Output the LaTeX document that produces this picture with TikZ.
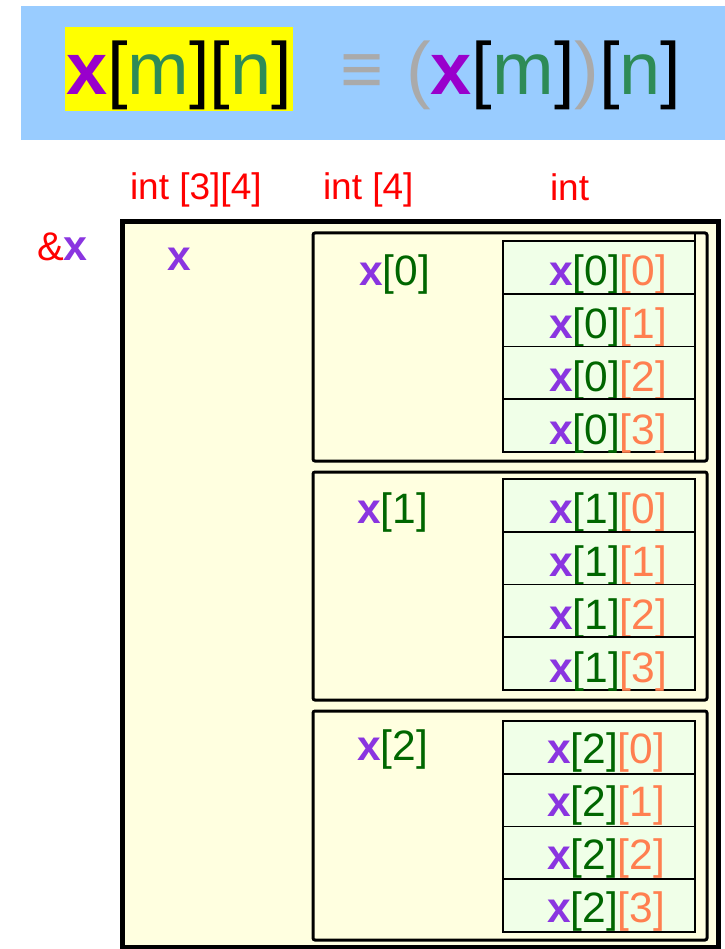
\documentclass[tikz,border=0pt]{standalone}
\usepackage{fontspec}
\setmainfont{Liberation Sans}
\definecolor{hblue}{HTML}{99CCFF}
\definecolor{hyel}{HTML}{FFFF00}
\definecolor{hpur}{HTML}{9900CC}
\definecolor{hgrn}{HTML}{2E8B57}
\definecolor{hgray}{HTML}{AAAAAA}
\definecolor{cx}{HTML}{8A35E0}
\definecolor{cg}{HTML}{006600}
\definecolor{co}{HTML}{FF7F50}
\definecolor{cred}{HTML}{FF0000}
\definecolor{byel}{HTML}{FFFFE0}
\definecolor{cgrn}{HTML}{F0FFE8}
\newcommand{\myX}{\textcolor{cx}{\textbf{x}}}
\newcommand{\myCell}[2]{\myX\textcolor{cg}{[#1]}\textcolor{co}{[#2]}}
\tikzset{
  txt/.style={inner sep=0pt, outer sep=0pt, anchor=base west},
  bigtxt/.style={txt, font=\fontsize{74}{80}\selectfont},
  lbltxt/.style={txt, font=\fontsize{42.5}{46}\selectfont},
  typetxt/.style={txt, font=\fontsize{37}{40}\selectfont, text=cred},
  outerbox/.style={draw=black, line width=5pt, fill=byel},
  rowbox/.style={draw=black, line width=3pt, fill=byel, rounded corners=2pt},
  cellbox/.style={draw=black, line width=1.8pt, fill=cgrn, inner sep=0pt, outer sep=0pt, anchor=north west, minimum width=192pt, minimum height=52.75pt}
}
\begin{document}
\begin{tikzpicture}[x=1pt,y=-1pt]
\useasboundingbox (0,0) rectangle (724,949);
% header
\fill[hblue] (21,6) rectangle (726,140);
\fill[hyel] (65,27) rectangle (293,111);
\node[bigtxt] (lhs) at (66,95) {\textcolor{hpur}{\textbf{x}}[\textcolor{hgrn}{m}][\textcolor{hgrn}{n}]};
\node[bigtxt, text=hgray] (eqv) at (340,95) {≡};
\node[bigtxt] (rhs) at (406,95) {\textcolor{hgray}{(}\textcolor{hpur}{\textbf{x}}[\textcolor{hgrn}{m}]\textcolor{hgray}{)}[\textcolor{hgrn}{n}]};
% type labels
\node[typetxt] (t34) at (130,200) {int [3][4]};
\node[typetxt] (t4) at (323,200) {int [4]};
\node[typetxt] (tint) at (550,201) {int};
\node[txt] (addr) at (37,261) {\fontsize{40}{44}\selectfont\textcolor{cred}{\&}\fontsize{43}{46}\selectfont\myX};
% outer box
\draw[outerbox] (122.5,221.5) rectangle (718.5,947.5);
\node[lbltxt] (xlbl) at (167,270) {\myX};
% row boxes
\draw[rowbox] (313,233) rectangle (707,461);
\draw[rowbox] (313,472) rectangle (707,700);
\draw[rowbox] (313,711) rectangle (707,940);
\draw[line width=1.8pt] (695,233) -- (695,461);
% row labels
\node[lbltxt] (r0) at (359,285) {\myX\textcolor{cg}{[0]}};
\node[lbltxt] (r1) at (357,523) {\myX\textcolor{cg}{[1]}};
\node[lbltxt] (r2) at (357,760) {\myX\textcolor{cg}{[2]}};
% cells
\foreach \i/\top/\base/\xl in {0/241/285/549, 1/479/523/549, 2/721/763/547}{
  \foreach \j in {0,1,2,3}{
    \node[cellbox] (c\i\j) at (503,\top+\j*52.75) {};
    \node[lbltxt] (ct\i\j) at (\xl,\base+\j*53) {\myCell{\i}{\j}};
  }
}
\end{tikzpicture}
\end{document}
